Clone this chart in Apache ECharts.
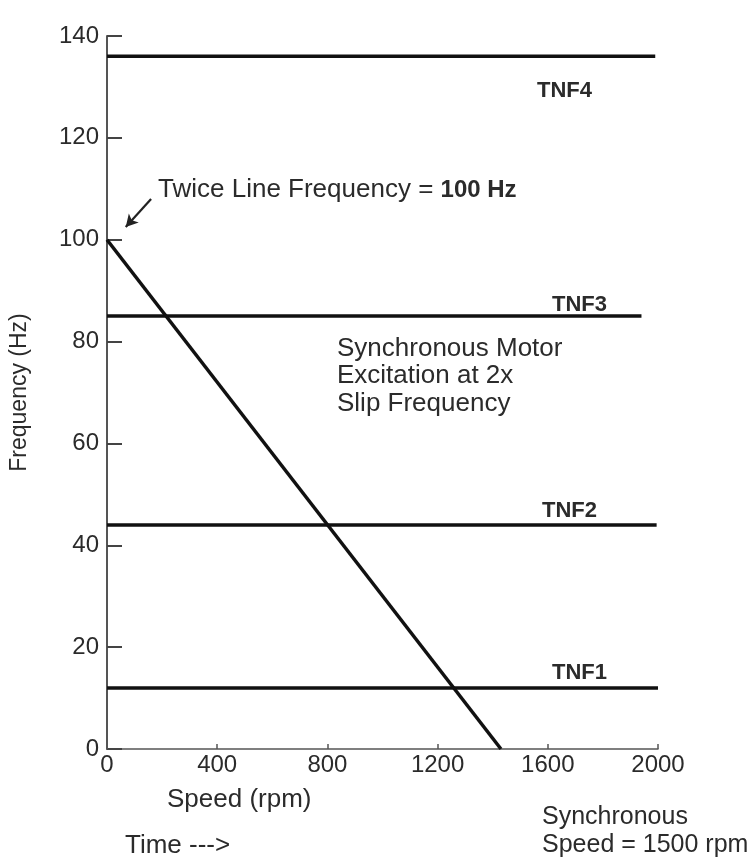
<!DOCTYPE html>
<html>
<head>
<meta charset="utf-8">
<script src="https://cdn.jsdelivr.net/npm/echarts@6/dist/echarts.min.js"></script>
<style>
  html, body { margin: 0; padding: 0; background: #fff; }
  #chart { width: 751px; height: 859px; }
</style>
</head>
<body>
<div id="chart"></div>
<script>
// Speed axis (rpm) and frequency axis (Hz)
const speedTicks = [0, 400, 800, 1200, 1600, 2000];
const freqTicks = [0, 20, 40, 60, 80, 100, 120, 140];

// Torsional natural frequencies (Hz) and where each drawn line stops (rpm)
const tnfNames = ['TNF1', 'TNF2', 'TNF3', 'TNF4'];
const tnfFreq = [12, 44, 85, 136];
const tnfEnd = [2000, 1995, 1940, 1990];

// Excitation at twice slip frequency: 100 Hz at standstill falling to zero
const slipSpeed = [0, 1430];
const slipFreq = [100, 0];

// Pointer to the 100 Hz start point (rpm, Hz)
const arrowFrom = [160, 108];
const arrowTo = [68, 102.5];

const FONT = '"Liberation Sans", Arial, Helvetica, sans-serif';
const INK = '#2b2b2b';

const chart = echarts.init(document.getElementById('chart'), null, { renderer: 'canvas' });

const series = tnfFreq.map((f, i) => ({
  name: tnfNames[i],
  type: 'line',
  data: [[0, f], [tnfEnd[i], f]],
  symbol: 'none',
  lineStyle: { color: '#111', width: 3.5 },
  silent: true,
  z: 3
}));

series.push({
  name: 'slip',
  type: 'line',
  data: slipSpeed.map((s, i) => [s, slipFreq[i]]),
  symbol: 'none',
  lineStyle: { color: '#111', width: 3.5 },
  silent: true,
  z: 4,
  markLine: {
    silent: true,
    symbol: ['none', 'arrow'],
    symbolSize: [10, 12],
    label: { show: false },
    lineStyle: { color: '#222', width: 2.2, type: 'solid' },
    data: [[{ coord: arrowFrom }, { coord: arrowTo }]]
  }
});

const txt = (text, x, y, opts = {}) => ({
  type: 'text',
  left: x,
  top: y,
  style: Object.assign({
    text,
    font: `${opts.weight || 'normal'} ${opts.size || 24}px ${FONT}`,
    fill: INK,
    textAlign: opts.align || 'left',
    textVerticalAlign: 'middle'
  }, opts.style || {})
});

const graphics = [
  txt('TNF4', 537, 80, { weight: 'bold', size: 22 }),
  txt('TNF3', 552, 294, { weight: 'bold', size: 22 }),
  txt('TNF2', 542, 500, { weight: 'bold', size: 22 }),
  txt('TNF1', 552, 662, { weight: 'bold', size: 22 }),
  {
    type: 'text', left: 158, top: 177,
    style: {
      text: '{a|Twice Line Frequency = }{b|100 Hz}',
      rich: {
        a: { font: `normal 26px ${FONT}`, fill: INK },
        b: { font: `bold 24px ${FONT}`, fill: INK }
      }
    }
  },
  {
    type: 'text', left: 337, top: 335,
    style: {
      text: 'Synchronous Motor\nExcitation at 2x\nSlip Frequency',
      font: `normal 26px ${FONT}`,
      lineHeight: 27.5,
      fill: INK
    }
  },
  {
    type: 'text', left: 167, top: 787,
    style: { text: 'Speed (rpm)', font: `normal 26px ${FONT}`, fill: INK }
  },
  {
    type: 'text', left: 125, top: 833,
    style: { text: 'Time --->', font: `normal 26px ${FONT}`, fill: INK }
  },
  {
    type: 'text', left: 542, top: 803,
    style: {
      text: 'Synchronous\nSpeed = 1500 rpm',
      font: `normal 25px ${FONT}`,
      lineHeight: 28,
      fill: INK
    }
  }
];

chart.setOption({
  animation: false,
  backgroundColor: '#fff',
  grid: { left: 106, right: 93, top: 36, bottom: 110, containLabel: false },
  xAxis: {
    type: 'value',
    min: speedTicks[0],
    max: speedTicks[speedTicks.length - 1],
    interval: 400,
    axisLine: { show: true, lineStyle: { color: '#555', width: 1.5 } },
    axisTick: { show: true, inside: true, length: 5, lineStyle: { color: '#555', width: 1.5 } },
    axisLabel: {
      margin: 4, fontSize: 24, fontFamily: FONT, color: INK,
      formatter: (v) => String(v)
    },
    splitLine: { show: false }
  },
  yAxis: {
    type: 'value',
    min: freqTicks[0],
    max: freqTicks[freqTicks.length - 1],
    interval: 20,
    name: 'Frequency (Hz)',
    nameLocation: 'middle',
    nameGap: 76,
    nameRotate: 90,
    nameTextStyle: { fontSize: 23, fontFamily: FONT, color: INK },
    axisLine: { show: true, lineStyle: { color: '#555', width: 2 } },
    axisTick: { show: true, inside: true, length: 15, lineStyle: { color: '#444', width: 2 } },
    axisLabel: {
      margin: 8, fontSize: 24, fontFamily: FONT, color: INK,
      formatter: (v) => String(v)
    },
    splitLine: { show: false }
  },
  series,
  graphic: graphics
});
</script>
</body>
</html>
